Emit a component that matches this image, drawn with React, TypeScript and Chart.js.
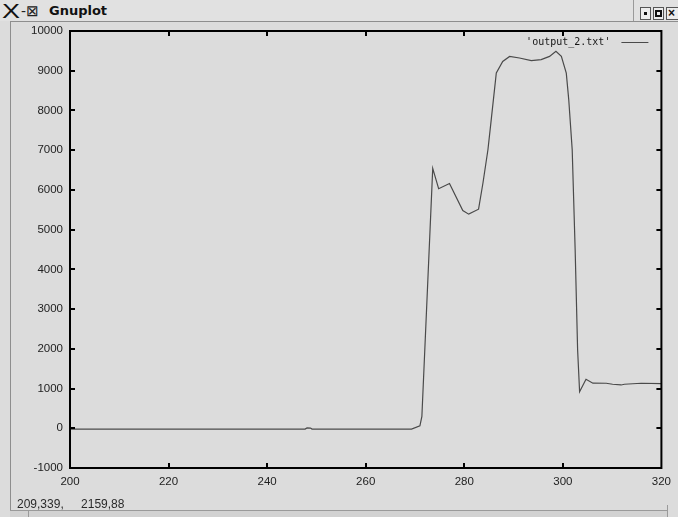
import React, { useEffect, useRef } from 'react';
import { Chart, registerables } from 'chart.js';

Chart.register(...registerables);

// ---- data ----
const seriesLabel = "'output_2.txt'";
const xValues = [
  200, 247.7, 248.1, 248.8, 249.1, 269.3, 271.0, 271.4, 273.6, 274.8,
  277.0, 279.7, 280.9, 282.9, 283.8, 284.8, 285.5, 286.5, 287.8, 289.2,
  291.2, 293.6, 295.6, 297.3, 298.6, 299.7, 300.7, 301.2, 301.9, 302.5,
  303.0, 303.4, 304.7, 306.1, 308.8, 310.1, 311.8, 312.5, 315.9, 320,
];
const yValues = [
  -20, -20, 10, 5, -20, -20, 60, 300, 6540, 6030,
  6160, 5480, 5390, 5515, 6180, 7010, 7800, 8945, 9235, 9360,
  9320, 9255, 9280, 9360, 9490, 9365, 8940, 8270, 7010, 4490,
  1970, 920, 1235, 1135, 1133, 1108, 1090, 1108, 1133, 1125,
];
const xTickMin = 200;
const xTickMax = 320;
const xTickStep = 20;
const yTickMin = -1000;
const yTickMax = 10000;
const yTickStep = 1000;
const windowTitle = 'Gnuplot';
const statusLeft = '209,339,';
const statusRight = '2159,88';

const gnuplotFrame = {
  id: 'gnuplotFrame',
  afterDatasetsDraw(chart: any) {
    const { ctx, chartArea: a, scales } = chart;
    ctx.save();
    // border box
    ctx.strokeStyle = '#000';
    ctx.lineWidth = 2;
    ctx.strokeRect(a.left, a.top, a.right - a.left, a.bottom - a.top);
    // inward tick marks on all four sides
    const L = 5;
    ctx.beginPath();
    scales.x.ticks.forEach((t: any) => {
      const px = Math.round(scales.x.getPixelForValue(t.value));
      if (Math.abs(px - a.left) < 2 || Math.abs(px - a.right) < 2) return;
      ctx.moveTo(px, a.bottom);
      ctx.lineTo(px, a.bottom - L);
      ctx.moveTo(px, a.top);
      ctx.lineTo(px, a.top + L);
    });
    scales.y.ticks.forEach((t: any) => {
      const py = Math.round(scales.y.getPixelForValue(t.value));
      if (Math.abs(py - a.top) < 2 || Math.abs(py - a.bottom) < 2) return;
      ctx.moveTo(a.left, py);
      ctx.lineTo(a.left + L, py);
      ctx.moveTo(a.right, py);
      ctx.lineTo(a.right - L, py);
    });
    ctx.stroke();
    // key (inside top-right)
    const ds = chart.data.datasets[0];
    const ky = a.top + 11;
    ctx.font = '10px "DejaVu Sans Mono"';
    ctx.fillStyle = '#151515';
    ctx.textAlign = 'right';
    ctx.textBaseline = 'middle';
    ctx.fillText(ds.label, a.right - 51, ky);
    ctx.strokeStyle = ds.borderColor;
    ctx.lineWidth = 1;
    ctx.beginPath();
    ctx.moveTo(a.right - 40, ky + 0.5);
    ctx.lineTo(a.right - 13, ky + 0.5);
    ctx.stroke();
    ctx.restore();
  },
};

export default function App() {
  const canvasRef = useRef<HTMLCanvasElement | null>(null);

  useEffect(() => {
    if (!canvasRef.current) return;
    const points = xValues.map((x, i) => ({ x, y: yValues[i] }));
    const tickFont = { family: '"Liberation Sans", Arial, sans-serif', size: 11.5 };
    const chart = new Chart(canvasRef.current, {
      type: 'line',
      data: {
        datasets: [
          {
            label: seriesLabel,
            data: points,
            borderColor: '#4a4a4a',
            backgroundColor: '#4a4a4a',
            borderWidth: 1.2,
            pointRadius: 0,
            tension: 0,
            fill: false,
          },
        ],
      },
      options: {
        responsive: false,
        animation: false,
        events: [],
        layout: { padding: { left: 0, right: 16, top: 31, bottom: 19 } },
        plugins: {
          legend: { display: false },
          tooltip: { enabled: false },
        },
        scales: {
          x: {
            type: 'linear',
            min: xTickMin,
            max: xTickMax,
            grid: { display: false, drawTicks: false },
            border: { display: false },
            ticks: {
              stepSize: xTickStep,
              autoSkip: false,
              maxRotation: 0,
              padding: 7,
              color: '#222',
              font: tickFont,
              callback: (v: any) => String(v),
            },
            afterFit: (scale: any) => {
              scale.height = 30;
            },
          },
          y: {
            type: 'linear',
            min: yTickMin,
            max: yTickMax,
            grid: { display: false, drawTicks: false },
            border: { display: false },
            ticks: {
              stepSize: yTickStep,
              autoSkip: false,
              padding: 7,
              color: '#222',
              font: tickFont,
              callback: (v: any) => String(v),
            },
            afterFit: (scale: any) => {
              scale.width = 70;
            },
          },
        },
      },
      plugins: [gnuplotFrame],
    });
    return () => chart.destroy();
  }, []);

  const btn: React.CSSProperties = {
    position: 'absolute',
    top: 7,
    width: 11,
    height: 13,
    border: '1px solid #555',
    background: '#ececec',
    boxSizing: 'border-box',
  };

  return (
    <div
      style={{
        position: 'fixed',
        left: 0,
        top: 0,
        width: 678,
        height: 517,
        background: '#dcdcdc',
        overflow: 'hidden',
        fontFamily: '"Liberation Sans", Arial, sans-serif',
      }}
    >
      {/* title bar */}
      <div
        style={{
          position: 'absolute',
          left: 0,
          top: 0,
          width: 678,
          height: 21,
          background: '#e1e1e1',
        }}
      >
        <span
          style={{
            position: 'absolute',
            left: 2,
            top: 0,
            fontSize: 20,
            color: '#111',
            lineHeight: '22px',
            transform: 'scaleX(1.35)',
            transformOrigin: 'left center',
          }}
        >
          X
        </span>
        <span
          style={{
            position: 'absolute',
            left: 21,
            top: 2,
            fontSize: 15,
            color: '#222',
            lineHeight: '17px',
          }}
        >
          -⊠
        </span>
        <span
          style={{
            position: 'absolute',
            left: 49,
            top: 3,
            fontSize: 13,
            fontWeight: 'bold',
            fontFamily: '"DejaVu Sans", sans-serif',
            color: '#111',
            lineHeight: '16px',
          }}
        >
          {windowTitle}
        </span>
        <div
          style={{
            position: 'absolute',
            left: 633,
            top: 0,
            width: 1,
            height: 21,
            background: '#9a9a9a',
          }}
        />
        <div style={{ ...btn, left: 640 }}>
          <div style={{ position: 'absolute', left: 3, top: 4, width: 3, height: 3, background: '#111' }} />
        </div>
        <div style={{ ...btn, left: 653 }}>
          <div
            style={{
              position: 'absolute',
              left: 1,
              top: 2,
              width: 7,
              height: 7,
              border: '2px solid #111',
              boxSizing: 'border-box',
            }}
          />
        </div>
        <div style={{ ...btn, left: 666, width: 13 }}>
          <span
            style={{
              position: 'absolute',
              left: 1,
              top: -2,
              fontSize: 12,
              fontWeight: 'bold',
              color: '#111',
              lineHeight: '14px',
            }}
          >
            ×
          </span>
        </div>
      </div>
      {/* inner frame lines */}
      <div
        style={{
          position: 'absolute',
          left: 10,
          top: 21,
          width: 668,
          height: 489,
          borderLeft: '1px solid #8e8e8e',
          borderTop: '1px solid #8e8e8e',
          boxSizing: 'border-box',
        }}
      />
      {/* bottom bar */}
      <div
        style={{
          position: 'absolute',
          left: 10,
          top: 510,
          width: 657,
          height: 7,
          borderTop: '1px solid #9a9a9a',
          background: '#d2d2d2',
          boxSizing: 'border-box',
        }}
      />
      <div style={{ position: 'absolute', left: 28, top: 510, width: 1, height: 7, background: '#9a9a9a' }} />
      <div style={{ position: 'absolute', left: 667, top: 505, width: 1, height: 12, background: '#9a9a9a' }} />
      <canvas
        ref={canvasRef}
        width={678}
        height={517}
        style={{ position: 'absolute', left: 0, top: 0 }}
      />
      {/* status line */}
      <div
        style={{
          position: 'absolute',
          left: 17,
          top: 497,
          fontSize: 12,
          lineHeight: '14px',
          color: '#2a2a2a',
          whiteSpace: 'pre',
        }}
      >
        {statusLeft} <span style={{ marginLeft: 14 }}>{statusRight}</span>
      </div>
    </div>
  );
}
